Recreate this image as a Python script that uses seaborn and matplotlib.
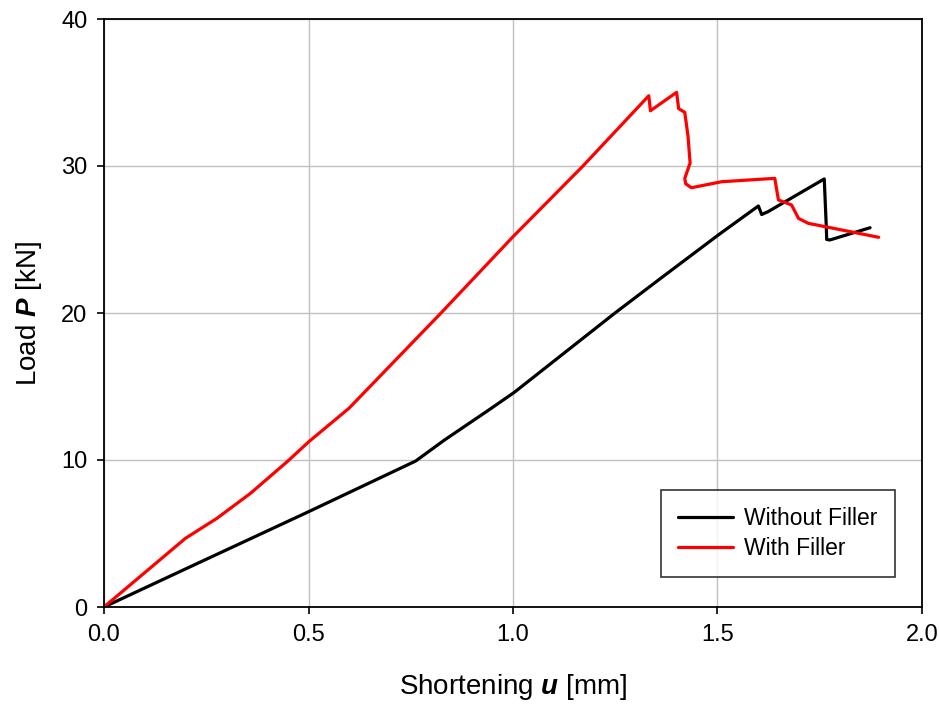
import matplotlib
matplotlib.use("Agg")
import matplotlib.pyplot as plt
import seaborn as sns
import pandas as pd

# Load-shortening curves (u in mm, P in kN)
u_without = [0, 0.194, 0.50, 0.762, 0.832, 0.946, 1.003, 1.248, 1.363, 1.504,
             1.600, 1.608, 1.624, 1.761, 1.766, 1.767, 1.775, 1.873]
p_without = [0, 2.52, 6.48, 9.93, 11.35, 13.5, 14.6, 19.97, 22.4, 25.35,
             27.28, 26.7, 26.9, 29.12, 25.87, 25.0, 24.97, 25.8]

u_with = [0, 0.199, 0.276, 0.358, 0.448, 0.501, 0.599, 0.824, 1.0, 1.171,
          1.332, 1.336, 1.400, 1.405, 1.420, 1.428, 1.433, 1.420, 1.422, 1.436,
          1.51, 1.640, 1.649, 1.681, 1.698, 1.722, 1.894]
p_with = [0, 4.67, 6.03, 7.73, 9.89, 11.25, 13.52, 20.0, 25.19, 30.0,
          34.78, 33.76, 35.01, 33.9, 33.65, 32.0, 30.2, 29.16, 28.8, 28.52,
          28.93, 29.16, 27.69, 27.35, 26.44, 26.1, 25.15]

series_names = ["Without Filler", "With Filler"]
series_colors = ["#000000", "#ff0000"]

df = pd.concat([
    pd.DataFrame({"u": u_without, "P": p_without, "series": series_names[0]}),
    pd.DataFrame({"u": u_with, "P": p_with, "series": series_names[1]}),
], ignore_index=True)

sns.set_style("white")
plt.rcParams["font.family"] = ["Liberation Sans", "DejaVu Sans"]
plt.rcParams["text.color"] = "black"
plt.rcParams["axes.labelcolor"] = "black"
plt.rcParams["xtick.color"] = "black"
plt.rcParams["ytick.color"] = "black"
plt.rcParams["mathtext.fontset"] = "custom"
plt.rcParams["mathtext.rm"] = "Liberation Sans"
plt.rcParams["mathtext.it"] = "Liberation Sans:italic"
plt.rcParams["mathtext.bf"] = "Liberation Sans:bold"
plt.rcParams["mathtext.bfit"] = "Liberation Sans:italic:bold"

fig = plt.figure(figsize=(9.39, 7.05), dpi=100)
ax = fig.add_axes([104 / 939, 1 - 607 / 705, 818 / 939, 588 / 705])

sns.lineplot(data=df, x="u", y="P", hue="series", hue_order=series_names,
             palette=series_colors, sort=False, estimator=None,
             linewidth=2.3, ax=ax)

ax.set_xlim(0, 2.0)
ax.set_ylim(0, 40)
ax.set_xticks([0.0, 0.5, 1.0, 1.5, 2.0])
ax.set_xticklabels(["0.0", "0.5", "1.0", "1.5", "2.0"])
ax.set_yticks([0, 10, 20, 30, 40])

ax.grid(True, color="#c0c0c0", linewidth=1.0)
ax.set_axisbelow(True)
for s in ax.spines.values():
    s.set_color("black")
    s.set_linewidth(1.3)

ax.tick_params(axis="both", which="both", direction="out", length=5, width=1.2,
               color="black", labelcolor="black", labelsize=17, pad=7,
               bottom=True, left=True)

ax.set_xlabel(r"Shortening $\mathbfit{u}$ [mm]", fontsize=20, labelpad=19)
ax.set_ylabel(r"Load $\mathbfit{P}$ [kN]", fontsize=20, labelpad=12)

leg = ax.legend(loc="lower right", bbox_to_anchor=(0.967, 0.051),
                borderaxespad=0, fontsize=16.5, frameon=True, fancybox=False,
                handlelength=2.4, handletextpad=0.5, borderpad=0.75,
                labelspacing=0.3, title=None)
leg.get_frame().set_edgecolor("black")
leg.get_frame().set_linewidth(1.2)
for line in leg.get_lines():
    line.set_linewidth(2.3)

fig.savefig("out.png", dpi=100)
